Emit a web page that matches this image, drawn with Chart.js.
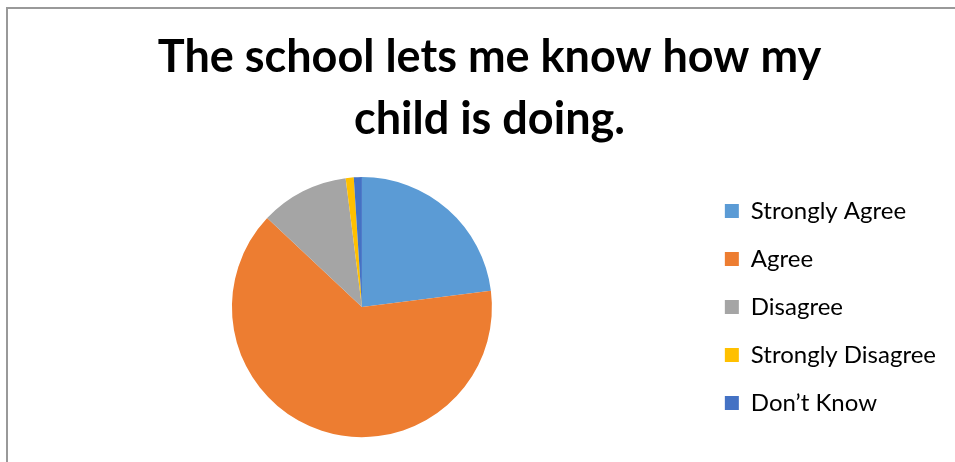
<!DOCTYPE html>
<html lang="en">
<head>
  <meta charset="UTF-8">
  <title>School survey</title>
  <script src="https://cdn.jsdelivr.net/npm/chart.js@4.4.0/dist/chart.umd.min.js"></script>
  <style>
    html, body { margin: 0; padding: 0; background: #fff; overflow: hidden; }
    body { width: 955px; height: 462px; position: relative; }
    #frame { position: absolute; left: 6px; top: 7px; width: 1000px; height: 500px;
             border-left: 2px solid #999; border-top: 2px solid #999; }
    #wrap { position: absolute; left: 8px; top: 9px; width: 962px; height: 453px; }
  </style>
</head>
<body>
  <div id="frame"></div>
  <div id="wrap"><canvas id="pie"></canvas></div>

  <script>
    var labels = ["Strongly Agree", "Agree", "Disagree", "Strongly Disagree", "Don\u2019t Know"];
    var values = [23, 64, 11, 1, 1];
    var colors = ["#5B9BD5", "#ED7D31", "#A5A5A5", "#FFC000", "#4472C4"];

    // the title in the original is centred on the whole picture, not on the pie + legend
    const nudgeTitle = {
      id: "nudgeTitle",
      afterLayout(chart) {
        chart.titleBlock.left += 10;
      }
    };

    new Chart("pie", {
      type: "pie",
      data: {
        labels: labels,
        datasets: [{
          data: values,
          backgroundColor: colors,
          borderWidth: 0,
          radius: 130
        }]
      },
      options: {
        responsive: true,
        maintainAspectRatio: false,
        animation: false,
        layout: { padding: { left: 15, right: 24, top: 0, bottom: 22 } },
        plugins: {
          tooltip: { enabled: false },
          title: {
            display: true,
            text: ["The school lets me know how my", "child is doing."],
            color: "#000",
            font: { family: "Lato", size: 45, weight: "bold", lineHeight: 1.38 },
            padding: { top: 17, bottom: 24 }
          },
          legend: {
            position: "right",
            fullSize: false,
            labels: {
              color: "#000",
              font: { family: "Lato", size: 24 },
              boxWidth: 14,
              boxHeight: 14,
              padding: 24
            }
          }
        }
      },
      plugins: [nudgeTitle]
    });
  </script>
</body>
</html>
